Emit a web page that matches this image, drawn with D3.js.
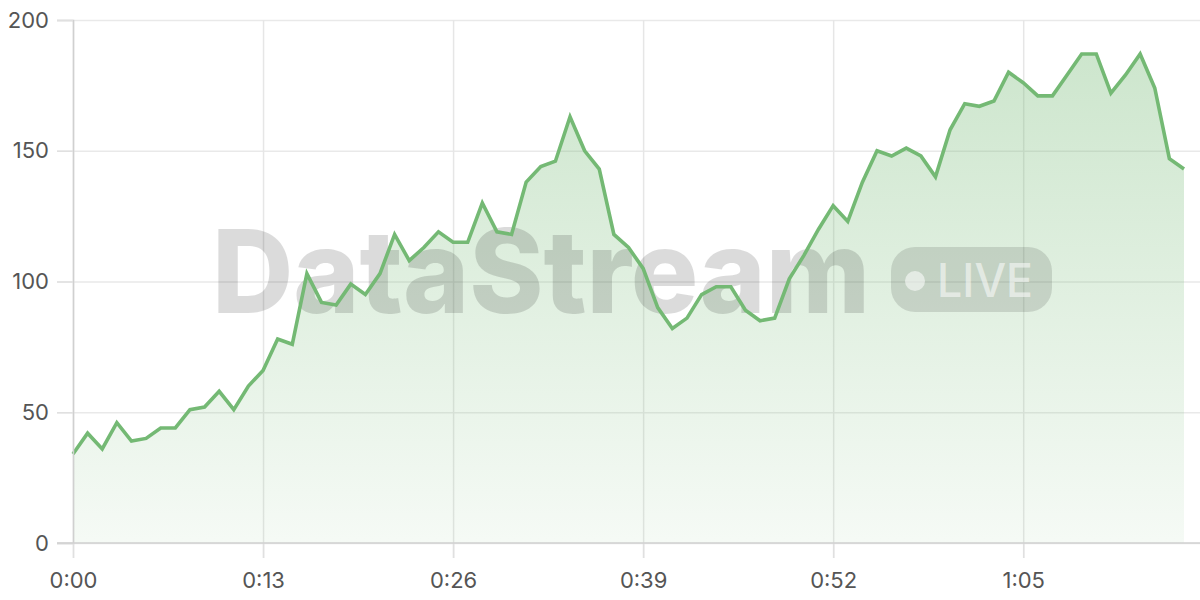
<!DOCTYPE html>
<html>
<head>
<meta charset="utf-8">
<script src="https://cdn.jsdelivr.net/npm/d3@7"></script>
<style>
  html, body { margin: 0; padding: 0; background: #ffffff; }
  svg { display: block; }
</style>
</head>
<body>
<svg id="chart" width="1200" height="600"></svg>
<script>
// ---- data ----
const seconds = d3.range(0, 77);
const values = [34, 42, 36, 46, 39, 40, 44, 44, 51, 52,
                58, 51, 60, 66, 78, 76, 103, 92, 91, 99,
                95, 103, 118, 108, 113, 119, 115, 115, 130, 119,
                118, 138, 144, 146, 163, 150, 143, 118, 113, 105,
                90, 82, 86, 95, 98, 98, 89, 85, 86, 101,
                110, 120, 129, 123, 138, 150, 148, 151, 148, 140,
                158, 168, 167, 169, 180, 176, 171, 171, 179, 187,
                187, 172, 179, 187, 174, 147, 143];
const xTicks = [0, 13, 26, 39, 52, 65];
const yTicks = [0, 50, 100, 150, 200];
const watermarkText = "DataStream";
const badgeText = "LIVE";

const data = seconds.map((s, i) => ({ s, v: values[i] }));

const svg = d3.select("#chart");
const x = d3.scaleLinear().domain([0, 76]).range([73, 1184]);
const y = d3.scaleLinear().domain([0, 200]).range([543, 20]);
const fmt = s => Math.floor(s / 60) + ":" + String(s % 60).padStart(2, "0");
const FONT = "Inter, 'Noto Sans', sans-serif";
const green = "#74b974";

// gradient
const defs = svg.append("defs");
const grad = defs.append("linearGradient").attr("id", "fillGrad")
  .attr("gradientUnits", "userSpaceOnUse")
  .attr("x1", 0).attr("y1", y(200)).attr("x2", 0).attr("y2", y(0));
grad.append("stop").attr("offset", "0%").attr("stop-color", green).attr("stop-opacity", 0.38);
grad.append("stop").attr("offset", "100%").attr("stop-color", green).attr("stop-opacity", 0.07);

// horizontal grid
svg.append("g")
  .attr("transform", "translate(57,0)")
  .call(d3.axisRight(y).tickValues(yTicks).tickSize(1143).tickFormat(""))
  .call(g => g.select(".domain").remove())
  .call(g => g.selectAll("line").attr("stroke", "#e9e9e9").attr("stroke-width", 1.5));

// vertical grid
svg.append("g")
  .attr("transform", "translate(0,20)")
  .call(d3.axisBottom(x).tickValues(xTicks).tickSize(538).tickFormat(""))
  .call(g => g.select(".domain").remove())
  .call(g => g.selectAll("line").attr("stroke", "#e6e6e6").attr("stroke-width", 1.5));

// area
svg.append("path")
  .datum(data)
  .attr("fill", "url(#fillGrad)")
  .attr("d", d3.area().x(d => x(d.s)).y0(y(0)).y1(d => y(d.v)));

// watermark
const wm = svg.append("g").attr("class", "watermark");
wm.append("text")
  .attr("x", 212).attr("y", 313)
  .attr("font-family", FONT).attr("font-weight", 800)
  .attr("font-size", 116)
  .attr("textLength", 658).attr("lengthAdjust", "spacingAndGlyphs")
  .attr("fill", "rgba(0,0,0,0.14)")
  .text(watermarkText);
wm.append("rect")
  .attr("x", 891).attr("y", 247).attr("width", 161).attr("height", 65)
  .attr("rx", 24)
  .attr("fill", "rgba(0,0,0,0.12)");
wm.append("circle")
  .attr("cx", 915).attr("cy", 281).attr("r", 10)
  .attr("fill", "rgba(255,255,255,0.55)");
wm.append("text")
  .attr("x", 937).attr("y", 297)
  .attr("font-family", FONT).attr("font-weight", 500)
  .attr("font-size", 46)
  .attr("textLength", 96).attr("lengthAdjust", "spacingAndGlyphs")
  .attr("fill", "rgba(255,255,255,0.55)")
  .text(badgeText);

// line
svg.append("path")
  .datum(data)
  .attr("fill", "none")
  .attr("stroke", green)
  .attr("stroke-width", 3.6)
  .attr("stroke-linejoin", "miter")
  .attr("d", d3.line().x(d => x(d.s)).y(d => y(d.v)));

// y axis
svg.append("g")
  .attr("transform", "translate(73,0)")
  .call(d3.axisLeft(y).tickValues(yTicks).tickSize(16).tickPadding(8))
  .call(g => g.select(".domain").attr("stroke", "#d0d0d0").attr("stroke-width", 1.5))
  .call(g => g.selectAll(".tick line").attr("stroke", "#e0e0e0").attr("stroke-width", 1.5))
  .call(g => g.selectAll("text").attr("font-family", FONT).attr("font-size", 22).attr("fill", "#555"));

// x axis
svg.append("g")
  .attr("transform", "translate(0,543)")
  .call(d3.axisBottom(x).tickValues(xTicks).tickFormat(fmt).tickSize(15).tickPadding(14))
  .call(g => g.select(".domain").remove())
  .call(g => g.selectAll(".tick line").attr("stroke", "#e0e0e0").attr("stroke-width", 1.5))
  .call(g => g.selectAll("text").attr("font-family", FONT).attr("font-size", 22).attr("fill", "#555"));

svg.append("line")
  .attr("x1", 57).attr("x2", 1200).attr("y1", y(0)).attr("y2", y(0))
  .attr("stroke", "#d0d0d0").attr("stroke-width", 1.5);
</script>
</body>
</html>
